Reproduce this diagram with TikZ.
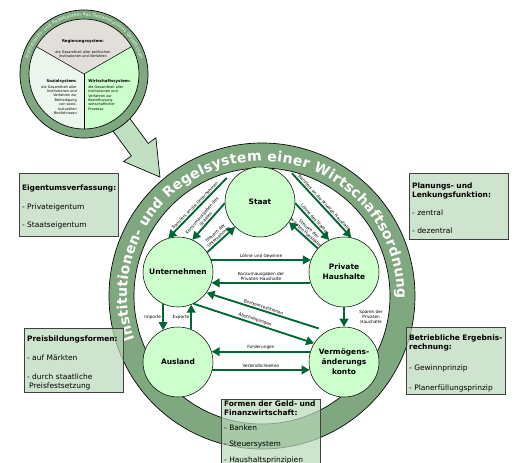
\documentclass[tikz,border=0pt]{standalone}
\usepackage{fontspec}
\setmainfont{DejaVu Sans}
\usetikzlibrary{arrows.meta,decorations.text}
\hyphenpenalty=10000
\definecolor{ringgreen}{RGB}{128,168,128}
\definecolor{nodegreen}{RGB}{204,255,204}
\definecolor{flowgreen}{RGB}{0,102,51}
\definecolor{boxgreen}{RGB}{186,216,186}
\definecolor{arrowgreen}{RGB}{192,222,192}
\definecolor{piegray}{RGB}{226,222,218}
\definecolor{piepale}{RGB}{236,246,236}
\newcommand\nodefont{\fontsize{5.6}{7.5}\selectfont\bfseries}
\newcommand\lblfont{\fontsize{3.2}{3.8}\selectfont}
\newcommand\boxfont{\fontsize{5.6}{6.7}\selectfont}
\newcommand\pietitle{\fontsize{2.9}{3.3}\selectfont\bfseries}
\newcommand\pietext{\fontsize{2.6}{3.3}\selectfont}
\newcommand\ringfont{\fontsize{10.5}{12}\selectfont\bfseries}
\newcommand\smallringfont{\fontsize{3.2}{4}\selectfont}
\begin{document}
\begin{tikzpicture}[x=0.75pt,y=0.75pt,
  sector/.style={circle,draw,fill=nodegreen,minimum size=52.5pt,inner sep=0pt,align=center,font=\nodefont},
  flow/.style={-{Triangle[length=6pt,width=6.5pt]},line width=1.4pt,draw=flowgreen},
  lbl/.style={font=\lblfont,inner sep=0.8pt,align=center},
  infobox/.style={draw=black!75,line width=0.6pt,fill=boxgreen,fill opacity=0.7,text opacity=1,
    anchor=north west,text width=70.25pt,inner sep=2pt,align=left,font=\boxfont}]
  \useasboundingbox (0,0) rectangle (514,462);
  \coordinate (bigc) at (262,166);
  \coordinate (smallc) at (84,388);

  % Ring der Wirtschaftsordnung
  \fill[ringgreen,even odd rule] (bigc) circle (153) (bigc) circle (128);
  \draw[line width=0.5pt] (bigc) circle (153) (bigc) circle (128);
  \path[decorate,decoration={text along path,text align=fit to path,text color=white,
    text={|\ringfont|Institutionen- und Regelsystem einer Wirtschaftsordnung}}]
    ([shift={(199:135)}]bigc) arc (199:-1:135);

  % Pfeil vom Gesamtsystem
  \begin{scope}[shift={(smallc)},rotate=-53.6]
    \draw[fill=arrowgreen,line width=0.5pt] (40,-10.5) -- (94,-10.5) -- (94,-20) -- (128,0)
      -- (94,20) -- (94,10.5) -- (40,10.5) -- cycle;
  \end{scope}

  % Gesamtsystem Gesellschaft
  \fill[ringgreen,even odd rule] (smallc) circle (64) (smallc) circle (55);
  \fill[piegray] (smallc) -- ++(150:55) arc (150:30:55) -- cycle;
  \fill[piepale] (smallc) -- ++(150:55) arc (150:270:55) -- cycle;
  \fill[nodegreen] (smallc) -- ++(270:55) arc (270:390:55) -- cycle;
  \foreach \a in {30,150,270}
    \draw[line width=0.4pt] (smallc) -- ++(\a:55);
  \draw[line width=0.5pt] (smallc) circle (64) (smallc) circle (55);
  \path[decorate,decoration={text along path,text align=fit to path,text color=white,
    text={|\smallringfont|Institutionen- und Regelsystem des Gesamtsystems Gesellschaft}}]
    ([shift={(165:58)}]smallc) arc (165:15:58);
  \node[font=\pietitle] (regtitle) at (83,421) {Regierungssystem:};
  \node[font=\pietext,align=center] (regtext) at (83,408) {die Gesamtheit aller politischen\\Institutionen und Verfahren};
  \node[font=\pietext,align=right,anchor=east,inner sep=0pt] (sozial) at (77,365)
    {{\pietitle Sozialsystem:}\\[0.9pt]die Gesamtheit aller\\Institutionen und\\Verfahren zur\\Befriedigung\\von sozio-\\kulturellen\\Bedürfnissen};
  \node[font=\pietext,align=left,anchor=west,inner sep=0pt] (wirtschaft) at (88,367)
    {{\pietitle Wirtschaftssystem:}\\[0.9pt]die Gesamtheit aller\\Institutionen und\\Verfahren zur\\Beeinflussung\\wirtschaftlicher\\Prozesse};

  % Sektoren
  \node[sector] (staat) at (260,260) {Staat};
  \node[sector] (unternehmen) at (178,190) {Unternehmen};
  \node[sector] (haushalte) at (344,190) {Private\\Haushalte};
  \node[sector] (ausland) at (178,100) {Ausland};
  \node[sector] (vermoegen) at (344,100) {Vermögens-\\änderungs\\konto};

  % Ströme
  \draw[flow] ([shift={(144:41)}]staat.center) -- (unternehmen.106)
    node[lbl,midway,sloped,above] {Transfers an die Unternehmen};
  \draw[flow] (staat.182) -- (unternehmen.66)
    node[lbl,midway,sloped,above] {Konsumausgaben des\\Staates};
  \draw[flow] (unternehmen.34) -- (staat.225)
    node[lbl,midway,sloped,above] {Steuern der\\Unternehmen};
  \draw[flow] ([shift={(42:43)}]staat.center) -- (haushalte.78)
    node[lbl,midway,sloped,above] {Transfers an die Privaten Haushalte};
  \draw[flow] (staat.-2) -- (haushalte.115)
    node[lbl,midway,sloped,above] {Löhne des Staates};
  \draw[flow] (haushalte.138) -- (staat.-35)
    node[lbl,midway,sloped,above] {Steuern der\\Privaten Haushalte};
  \draw[flow] (unternehmen.20) -- (haushalte.160)
    node[lbl,midway,above] {Löhne und Gewinne};
  \draw[flow] (haushalte.198) -- (unternehmen.-18)
    node[lbl,midway,above] {Konsumausgaben der\\Privaten Haushalte};
  \draw[flow] ([shift={(127:42)}]vermoegen.center) -- (unternehmen.-36)
    node[lbl,midway,sloped,above] {Bruttoinvestitionen};
  \draw[flow] (unternehmen.-64) -- (vermoegen.148)
    node[lbl,midway,sloped,above] {Abschreibungen};
  \draw[flow] (unternehmen.245) -- (ausland.115)
    node[lbl,midway,left] {Importe};
  \draw[flow] (ausland.68) -- (unternehmen.292)
    node[lbl,midway,left] {Exporte};
  \draw[flow] (haushalte.south) -- (vermoegen.north)
    node[lbl,midway,right=10pt] {Sparen der\\Privaten\\Haushalte};
  \draw[flow] (vermoegen.163) -- (ausland.17)
    node[lbl,midway,above] {Forderungen};
  \draw[flow] (ausland.-13) -- (vermoegen.193)
    node[lbl,midway,above] {Verbindlichkeiten};

  % Kästen
  \node[infobox] (eigentum) at (19,289)
    {\rule{0pt}{11pt}\textbf{Eigentumsverfassung:}\\[7pt]- Privateigentum\\[7pt]- Staatseigentum\rule[-5pt]{0pt}{5pt}};
  \node[infobox] (planung) at (409,289)
    {\rule{0pt}{9pt}\textbf{Planungs- und}\\\textbf{Lenkungsfunktion:}\\[6.8pt]- zentral\\[6.8pt]- dezentral\rule[-3pt]{0pt}{3pt}};
  \node[infobox] (preis) at (24,134)
    {\rule{0pt}{8pt}\textbf{Preisbildungsformen:}\\[7.5pt]- auf Märkten\\[7.5pt]- durch staatliche\\\hspace*{1.5pt}Preisfestsetzung};
  \node[infobox] (ergebnis) at (406,135)
    {\rule{0pt}{8pt}\textbf{Betriebliche Ergebnis-}\\\textbf{rechnung:}\\[9pt]- Gewinnprinzip\\[8.3pt]- Planerfüllungsprinzip};
  \node[infobox,inner ysep=1pt] (finanz) at (221,63)
    {\textbf{Formen der Geld- und}\\\textbf{Finanzwirtschaft:}\\[5pt]- Banken\\[5.3pt]- Steuersystem\\[4.6pt]- Haushaltsprinzipien\rule[-20pt]{0pt}{20pt}};
\end{tikzpicture}
\end{document}
